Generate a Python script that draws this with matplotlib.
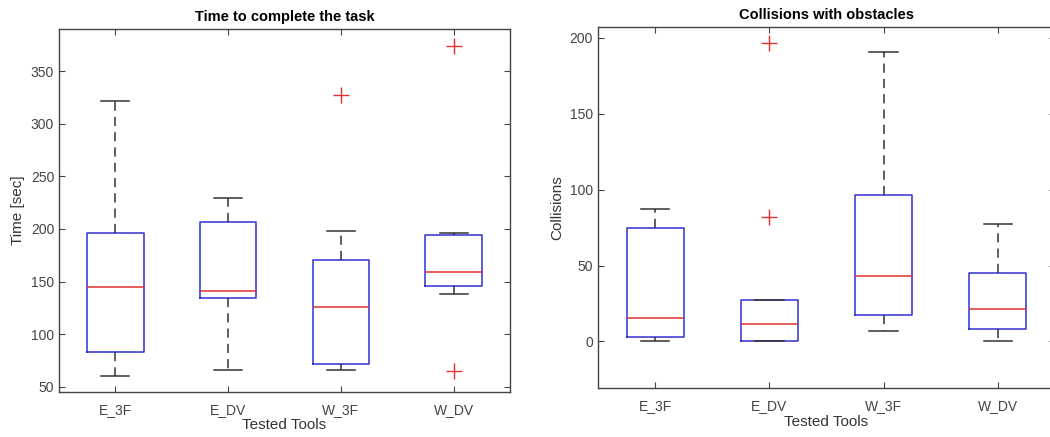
import matplotlib
matplotlib.use('Agg')
import matplotlib.pyplot as plt

plt.rcParams['font.family'] = ['Liberation Sans', 'DejaVu Sans']

tools = ['E_3F', 'E_DV', 'W_3F', 'W_DV']

# time to complete the task [sec]
time_whislo = [60, 66, 66, 138]
time_q1 = [83, 134, 72, 146]
time_med = [145, 141, 126, 159]
time_q3 = [196, 207, 170, 194]
time_whishi = [322, 229, 198, 196]
time_fliers = [[], [], [327], [374, 65]]

# collisions with obstacles
coll_whislo = [0, 0, 7, 0]
coll_q1 = [3, 0, 17.5, 8.3]
coll_med = [15.4, 11.8, 43.2, 21.5]
coll_q3 = [75, 27, 96.5, 45]
coll_whishi = [87, 27, 190.6, 77.2]
coll_fliers = [[], [197, 82], [], []]


def stats(lo, q1, med, q3, hi, fl):
    out = []
    for i in range(len(tools)):
        out.append(dict(label=tools[i], whislo=lo[i], q1=q1[i], med=med[i],
                        q3=q3[i], whishi=hi[i], fliers=fl[i]))
    return out


def draw(ax, st, title, ylabel, ylim, yticks):
    ax.bxp(st, widths=0.5, showfliers=True, capwidths=0.25,
           boxprops=dict(color='#3030d0', linewidth=1.1),
           medianprops=dict(color='#e03030', linewidth=1.1),
           whiskerprops=dict(color='#333333', linestyle=(0, (6, 4)), linewidth=1.1),
           capprops=dict(color='#333333', linewidth=1.1),
           flierprops=dict(marker='+', markeredgecolor='#e03030', markersize=12,
                           markeredgewidth=1.0, linestyle='none'))
    ax.set_xlim(0.5, 4.5)
    ax.set_ylim(*ylim)
    ax.set_yticks(yticks)
    ax.set_xticks([1, 2, 3, 4], tools)
    ax.set_title(title, fontsize=10.5, fontweight='bold', pad=6)
    ax.set_ylabel(ylabel, fontsize=11, color='#333333')
    ax.set_xlabel('Tested Tools', fontsize=11, color='#333333', labelpad=1)
    ax.tick_params(direction='in', top=True, right=True, length=4,
                   colors='#444444', labelsize=10, labelcolor='#444444')
    ax.tick_params(axis='x', pad=8)
    for s in ax.spines.values():
        s.set_color('#444444')
        s.set_linewidth(1.0)


fig = plt.figure(figsize=(10.5, 4.37), dpi=100)
ax1 = fig.add_axes([0.0562, 0.103, 0.4295, 0.8306])
ax2 = fig.add_axes([0.5695, 0.1121, 0.4352, 0.826])

draw(ax1, stats(time_whislo, time_q1, time_med, time_q3, time_whishi, time_fliers),
     'Time to complete the task', 'Time [sec]', (45, 390), [50, 100, 150, 200, 250, 300, 350])
draw(ax2, stats(coll_whislo, coll_q1, coll_med, coll_q3, coll_whishi, coll_fliers),
     'Collisions with obstacles', 'Collisions', (-30.7, 207.2), [0, 50, 100, 150, 200])

fig.savefig('out.png', dpi=100)
plt.close()
